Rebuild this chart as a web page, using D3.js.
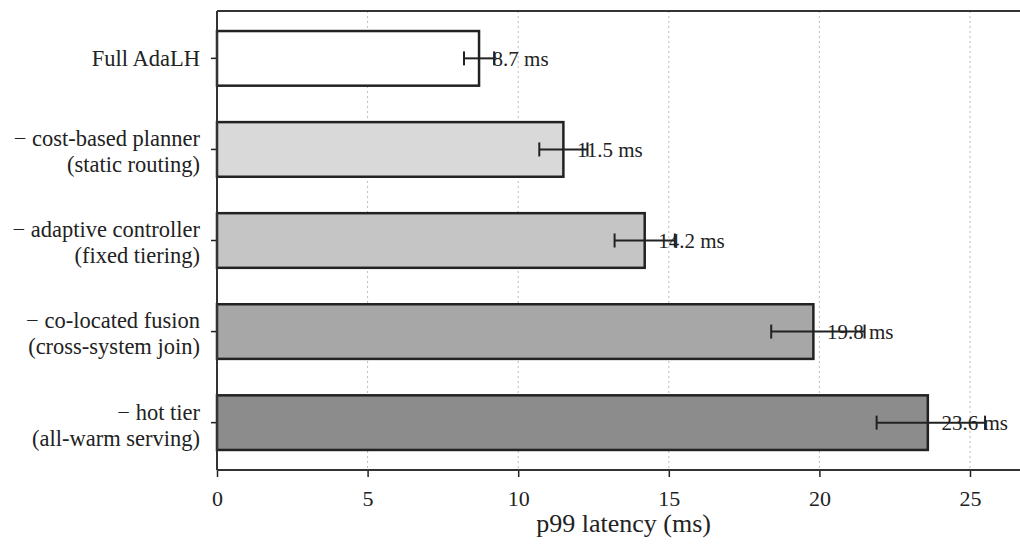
<!DOCTYPE html>
<html>
<head>
<meta charset="utf-8">
<script src="https://cdn.jsdelivr.net/npm/d3@7"></script>
<style>
  body { margin: 0; background: #fff; }
  svg { display: block; }
  svg text { font-family: "Liberation Serif", "Times New Roman", "DejaVu Serif", serif; }
</style>
</head>
<body>
<div class="vis-ablation"></div>
<script>
// ablation variants, top to bottom
const labels = [
    ["Full AdaLH"],
    ["\u2212 cost-based planner", "(static routing)"],
    ["\u2212 adaptive controller", "(fixed tiering)"],
    ["\u2212 co-located fusion", "(cross-system join)"],
    ["\u2212 hot tier", "(all-warm serving)"]
];
const latency = [8.7, 11.5, 14.2, 19.8, 23.6];
const errLow = [8.2, 10.7, 13.2, 18.4, 21.9];
const errHigh = [9.2, 12.3, 15.2, 21.5, 25.5];
const fills = ["#ffffff", "#d9d9d9", "#c5c5c5", "#a7a7a7", "#8c8c8c"];
const xTicks = [0, 5, 10, 15, 20, 25];

const W = 1020, H = 545;
const margin = {top: 11, left: 217, bottom: 75};
const plotH = H - margin.top - margin.bottom;
const serif = '"Liberation Serif", "Times New Roman", "DejaVu Serif", serif';

let data = latency.map(function(v, i){
    return {idx: i, label: labels[i], value: v, lo: errLow[i], hi: errHigh[i], fill: fills[i]};
});

let svg = d3.select('.vis-ablation')
    .append('svg')
    .attr('width', W)
    .attr('height', H);

let g = svg.append('g')
    .attr('transform', 'translate(' + margin.left + ',' + margin.top + ')');

// 25 ms lands at x=970, plot runs past the right edge (xlim ~27)
let xScale = d3.scaleLinear()
    .domain([0, 25])
    .range([0, 753]);

let yScale = d3.scaleBand()
    .domain(data.map(d => d.idx))
    .range([0, plotH])
    .paddingInner(0.4)
    .paddingOuter(0.22);

// dotted grid
g.append('g')
    .selectAll('line')
    .data(xTicks.slice(1))
    .enter()
    .append('line')
    .attr('x1', d => xScale(d))
    .attr('x2', d => xScale(d))
    .attr('y1', 0)
    .attr('y2', plotH)
    .attr('stroke', '#bbbbbb')
    .attr('stroke-width', 1)
    .attr('stroke-dasharray', '2,3');

// bars
g.selectAll('.bar')
    .data(data)
    .enter()
    .append('rect')
    .attr('class', 'bar')
    .attr('x', xScale(0))
    .attr('y', d => yScale(d.idx))
    .attr('width', d => xScale(d.value) - xScale(0))
    .attr('height', yScale.bandwidth())
    .attr('fill', d => d.fill)
    .attr('stroke', '#222')
    .attr('stroke-width', 2.5);

// error bars
let err = g.selectAll('.err')
    .data(data)
    .enter()
    .append('g')
    .attr('class', 'err')
    .attr('transform', d => 'translate(0,' + (yScale(d.idx) + yScale.bandwidth() / 2) + ')');
err.append('line')
    .attr('x1', d => xScale(d.lo))
    .attr('x2', d => xScale(d.hi))
    .attr('stroke', '#222')
    .attr('stroke-width', 2);
err.append('line')
    .attr('x1', d => xScale(d.lo))
    .attr('x2', d => xScale(d.lo))
    .attr('y1', -7).attr('y2', 7)
    .attr('stroke', '#222')
    .attr('stroke-width', 2);
err.append('line')
    .attr('x1', d => xScale(d.hi))
    .attr('x2', d => xScale(d.hi))
    .attr('y1', -7).attr('y2', 7)
    .attr('stroke', '#222')
    .attr('stroke-width', 2);

// value labels
g.selectAll('.val')
    .data(data)
    .enter()
    .append('text')
    .attr('class', 'val')
    .attr('x', d => xScale(d.value + 0.45))
    .attr('y', d => yScale(d.idx) + yScale.bandwidth() / 2)
    .attr('dy', '0.35em')
    .attr('font-family', serif)
    .attr('font-size', 21)
    .attr('fill', '#222')
    .text(d => d.value.toFixed(1) + ' ms');

// x axis
let xAxis = g.append('g')
    .attr('transform', 'translate(0,' + plotH + ')')
    .call(d3.axisBottom(xScale).tickValues(xTicks).tickSize(7).tickPadding(13));
xAxis.select('.domain').remove();
xAxis.selectAll('line').attr('stroke', '#222').attr('stroke-width', 1.5);
xAxis.selectAll('text')
    .attr('font-family', serif)
    .attr('font-size', 22)
    .attr('fill', '#222');

g.append('text')
    .attr('x', xScale(13.5))
    .attr('y', plotH + 62)
    .attr('text-anchor', 'middle')
    .attr('font-family', serif)
    .attr('font-size', 26)
    .attr('fill', '#222')
    .text('p99 latency (ms)');

// y axis ticks and labels
let yAxis = g.append('g');
data.forEach(function(d){
    let cy = yScale(d.idx) + yScale.bandwidth() / 2;
    yAxis.append('line')
        .attr('x1', -6).attr('x2', 0)
        .attr('y1', cy).attr('y2', cy)
        .attr('stroke', '#222')
        .attr('stroke-width', 1.5);
    let n = d.label.length;
    let t = yAxis.append('text')
        .attr('x', -17)
        .attr('y', cy - (n - 1) * 11)
        .attr('text-anchor', 'end')
        .attr('font-family', serif)
        .attr('font-size', 22.5)
        .attr('fill', '#222');
    d.label.forEach(function(line, k){
        t.append('tspan')
            .attr('x', -17)
            .attr('dy', k === 0 ? '0.35em' : 26)
            .text(line);
    });
});

// spines: left, bottom, top
g.append('line').attr('x1', 0).attr('x2', 0).attr('y1', 0).attr('y2', plotH)
    .attr('stroke', '#333').attr('stroke-width', 2);
g.append('line').attr('x1', 0).attr('x2', W).attr('y1', plotH).attr('y2', plotH)
    .attr('stroke', '#333').attr('stroke-width', 2);
g.append('line').attr('x1', 0).attr('x2', W).attr('y1', 0).attr('y2', 0)
    .attr('stroke', '#333').attr('stroke-width', 2);
</script>
</body>
</html>
